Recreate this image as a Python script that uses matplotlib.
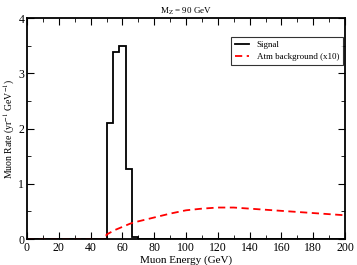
""" Muon rate spectrum: signal vs atmospheric background. """

import numpy as np
import matplotlib
matplotlib.use("Agg")
import matplotlib.pyplot as plt
from matplotlib.ticker import MultipleLocator

# signal histogram (4 GeV bins)
signal_edges = [0, 50, 54, 58, 62, 66, 70, 200]
signal_rates = [0.0, 2.1, 3.38, 3.5, 1.27, 0.03, 0.0]

# atmospheric background (x10)
bkg_energy = [0, 10, 20, 30, 40, 49.9, 50, 55, 60, 65, 70, 80, 90, 100, 110, 120,
              130, 140, 150, 160, 170, 180, 190, 200]
bkg_rate = [0.0, 0.0, 0.0, 0.0, 0.0, 0.0, 0.08, 0.16, 0.22, 0.28, 0.32, 0.39, 0.46,
            0.52, 0.55, 0.57, 0.57, 0.55, 0.53, 0.51, 0.49, 0.47, 0.45, 0.43]


def main():
    plt.rcParams['font.family'] = ['Liberation Serif', 'DejaVu Serif']
    plt.rcParams['mathtext.fontset'] = 'stix'

    fig = plt.figure(figsize=(3.57, 2.65), dpi=100)
    ax = fig.add_axes([0.0756, 0.098, 0.891, 0.834])

    ax.stairs(signal_rates, signal_edges, color='black', lw=1.3, label='Signal')
    ax.plot(bkg_energy, bkg_rate, color='red', ls=(0, (4, 2.5)), lw=1.3,
            label='Atm background (x10)')

    ax.set_xlim(0, 200)
    ax.set_ylim(0, 4)
    ax.xaxis.set_major_locator(MultipleLocator(20))
    ax.xaxis.set_minor_locator(MultipleLocator(10))
    ax.yaxis.set_major_locator(MultipleLocator(1))
    ax.yaxis.set_minor_locator(MultipleLocator(0.5))
    ax.tick_params(which='both', direction='in', top=True, right=True, labelsize=8.5, pad=2)
    ax.tick_params(which='major', length=5)
    ax.tick_params(which='minor', length=3)
    for sp in ax.spines.values():
        sp.set_linewidth(1.3)

    ax.set_xlabel('Muon Energy (GeV)', fontsize=8, labelpad=1)
    ax.set_ylabel('Muon Rate (yr$^{-1}$ GeV$^{-1}$)', fontsize=7, labelpad=1)
    ax.set_title('M$_{\\rm Z}$ = 90 GeV', fontsize=6.5, pad=3)

    leg = ax.legend(loc='upper right', bbox_to_anchor=(1.008, 0.935), fontsize=6.5,
                    frameon=True, fancybox=False, edgecolor='black', handlelength=1.6,
                    borderpad=0.45, labelspacing=0.35, handletextpad=0.8)
    leg.get_frame().set_linewidth(0.8)

    fig.savefig('out.png', dpi=100)


if __name__ == "__main__":
    main()
